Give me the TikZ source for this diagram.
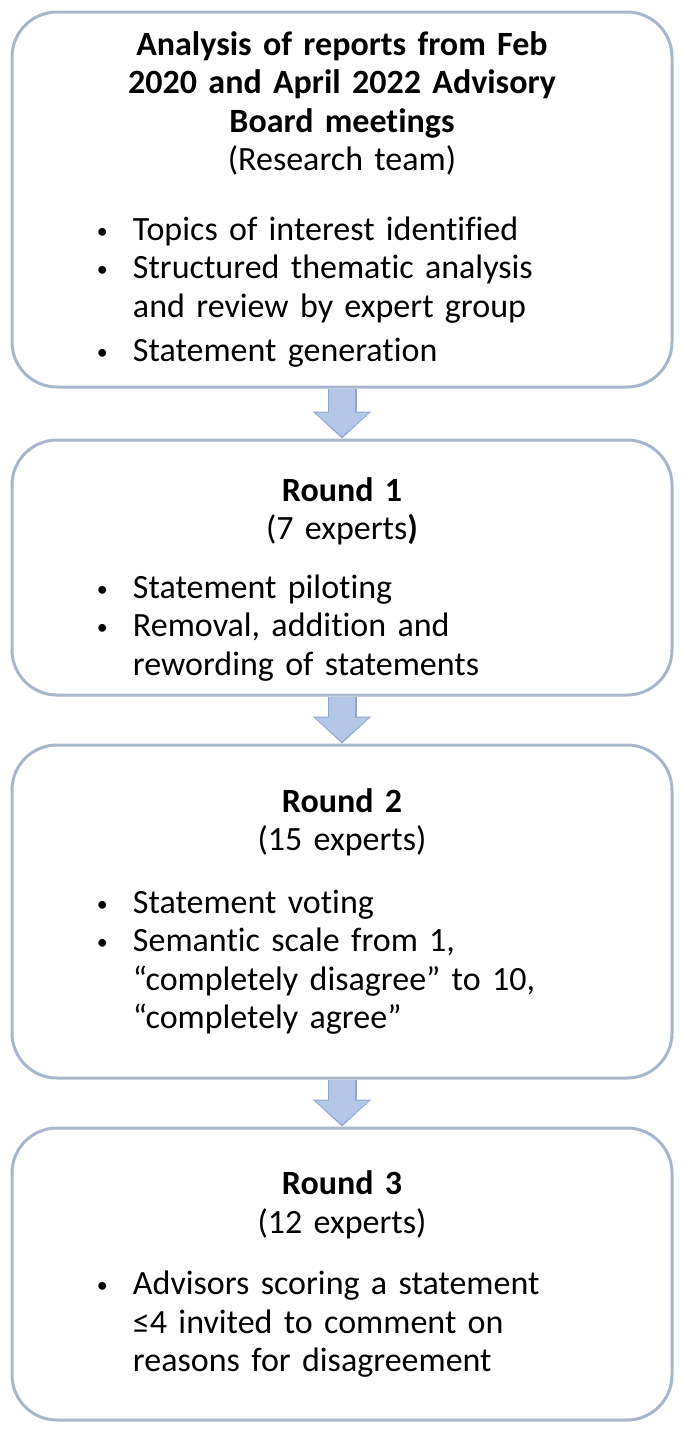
\documentclass[tikz,border=0pt]{standalone}
\usepackage{fontspec}
\setmainfont{Carlito}[Ligatures=NoCommon]
\usetikzlibrary{positioning,arrows.meta}

\definecolor{boxline}{RGB}{168,182,206}
\definecolor{flowfill}{RGB}{180,199,231}
\definecolor{flowline}{RGB}{143,166,205}

\newcommand{\stagehead}[1]{{\centering\bfseries #1\par}}
\newcommand{\stagesub}[1]{{\centering #1\par}}
\newcommand{\nextline}{\hfil\break}
\newcommand{\stagepoint}[1]{\hangindent=36pt\hangafter=1\noindent\makebox[36pt][l]{\raisebox{2pt}{\fontsize{22}{22}\selectfont\textbullet}}#1\par}
\newcommand{\stagelist}[2]{\vspace{#1}{\leftskip=85pt\relax #2}}

\begin{document}
\begin{tikzpicture}
[x=1pt,y=-1pt,
 every node/.style={font=\fontsize{34}{38.5}\selectfont},
 stage/.style={draw=boxline,line width=3pt,rounded corners=45pt,fill=white,
               minimum width=660pt,text width=660pt,inner sep=0pt,align=left},
 flowrim/.style={flowline,line width=29pt,-{Triangle[width=57pt,length=27pt]}},
 flow/.style={flowfill,line width=26pt,shorten >=2pt,-{Triangle[width=53pt,length=24pt]}}]
\useasboundingbox (0,0) rectangle (685,1433);
\node[stage,minimum height=375pt] (sources) at (342,199.5) {%
  \stagehead{Analysis of reports from Feb\\2020 and April 2022 Advisory\\Board meetings}
  \stagesub{(Research team)}
  \stagelist{31pt}{%
    \stagepoint{Topics of interest identified}
    \stagepoint{Structured thematic analysis\nextline and review by expert group}
    \vspace{6pt}
    \stagepoint{Statement generation}}};
\node[stage,minimum height=255pt] (round1) at (342,567.5) {%
  \stagehead{\rule{0pt}{47pt}Round 1}
  \stagesub{(7 experts\textbf{)}}
  \stagelist{20pt}{%
    \stagepoint{Statement piloting}
    \stagepoint{Removal, addition and\nextline rewording of statements}}};
\node[stage,minimum height=333pt] (round2) at (342,911.5) {%
  \stagehead{Round 2}
  \stagesub{(15 experts)}
  \stagelist{24pt}{%
    \stagepoint{Statement voting}
    \stagepoint{Semantic scale from 1,\nextline “completely disagree” to 10,\nextline “completely agree”}}};
\node[stage,minimum height=292pt] (round3) at (342,1274) {%
  \stagehead{Round 3}
  \stagesub{(12 experts)}
  \stagelist{23pt}{%
    \stagepoint{Advisors scoring a statement\nextline ≤4 invited to comment on\nextline reasons for disagreement}}};
\draw[flowrim] (sources) -- (round1);
\draw[flow]    (sources) -- (round1);
\draw[flowrim] (round1)  -- (round2);
\draw[flow]    (round1)  -- (round2);
\draw[flowrim] (round2)  -- (round3);
\draw[flow]    (round2)  -- (round3);
\end{tikzpicture}
\end{document}
